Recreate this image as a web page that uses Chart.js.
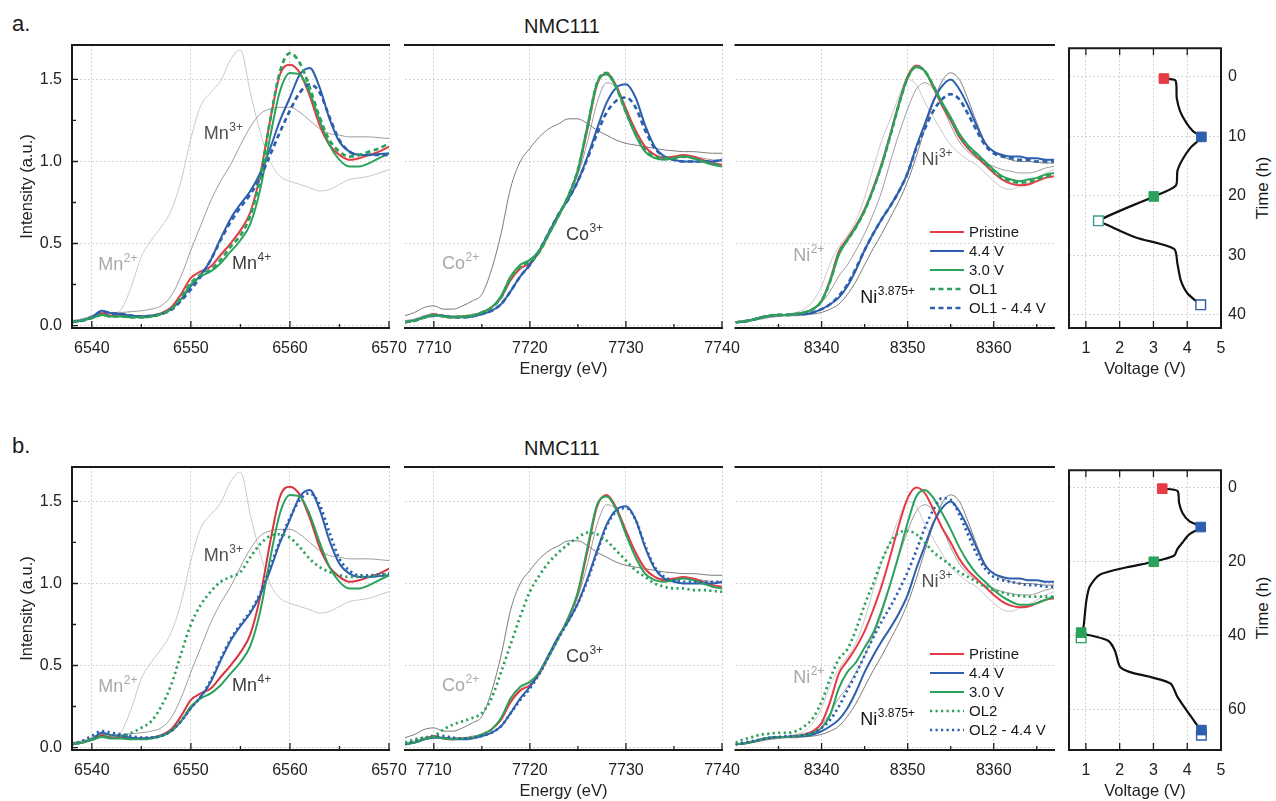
<!DOCTYPE html>
<html><head><meta charset="utf-8">
<script src="https://cdn.jsdelivr.net/npm/chart.js@4/dist/chart.umd.min.js"></script>
<style>
html,body{margin:0;padding:0;width:1276px;height:801px;overflow:hidden;background:#fff}
body{position:relative;font-family:"Liberation Sans",Arial,sans-serif;color:#1a1a1a}
canvas{position:absolute}
.t{position:absolute;line-height:1;white-space:nowrap}
</style></head><body>
<div class="t" style="left:12px;top:13px;font-size:22px">a.</div>
<div class="t" style="left:562px;top:16px;font-size:20px;transform:translateX(-50%)">NMC111</div>
<div class="t" style="left:12px;top:435px;font-size:22px">b.</div>
<div class="t" style="left:562px;top:438px;font-size:20px;transform:translateX(-50%)">NMC111</div>
<div class="t" style="left:1262px;top:188px;font-size:17px;transform:translate(-50%,-50%) rotate(-90deg)">Time (h)</div>
<div class="t" style="left:1262px;top:608px;font-size:17px;transform:translate(-50%,-50%) rotate(-90deg)">Time (h)</div>

<canvas id="a1" width="415" height="345" style="left:0px;top:40px"></canvas>
<canvas id="a2" width="365" height="345" style="left:385px;top:40px"></canvas>
<canvas id="a3" width="355" height="345" style="left:715px;top:40px"></canvas>
<canvas id="a4" width="226" height="345" style="left:1050px;top:40px"></canvas>
<canvas id="b1" width="415" height="345" style="left:0px;top:462px"></canvas>
<canvas id="b2" width="365" height="345" style="left:385px;top:462px"></canvas>
<canvas id="b3" width="355" height="345" style="left:715px;top:462px"></canvas>
<canvas id="b4" width="226" height="345" style="left:1050px;top:462px"></canvas>

<script>
// ---------------- DATA ----------------
// Mn K-edge
const mnEnergy = [6538,6539,6540,6541,6542,6543,6544,6545,6546,6547,6548,6549,6550,6551,6552,6553,6554,6555,6556,6557,6558,6559,6560,6561,6562,6563,6564,6565,6566,6567,6568,6569,6570];
const mnPristine = [0.02,0.03,0.05,0.075,0.06,0.06,0.055,0.055,0.06,0.075,0.11,0.19,0.29,0.33,0.36,0.43,0.50,0.58,0.69,0.92,1.25,1.53,1.59,1.54,1.40,1.22,1.10,1.04,1.01,1.02,1.04,1.06,1.09];
const mn44 = [0.02,0.03,0.05,0.09,0.075,0.07,0.06,0.055,0.06,0.07,0.10,0.16,0.24,0.31,0.40,0.53,0.65,0.74,0.82,0.93,1.08,1.25,1.39,1.53,1.57,1.45,1.26,1.12,1.06,1.04,1.04,1.045,1.05];
const mn30 = [0.02,0.03,0.045,0.065,0.055,0.055,0.05,0.05,0.055,0.07,0.10,0.16,0.25,0.30,0.33,0.38,0.45,0.52,0.62,0.83,1.15,1.43,1.54,1.53,1.42,1.25,1.10,1.01,0.97,0.97,0.99,1.02,1.05];
const mnOL1 = [0.02,0.03,0.045,0.065,0.055,0.055,0.05,0.05,0.055,0.07,0.10,0.17,0.26,0.31,0.34,0.40,0.48,0.55,0.67,0.90,1.25,1.55,1.66,1.60,1.45,1.27,1.13,1.06,1.03,1.04,1.06,1.08,1.11];
const mnOL1_44 = [0.02,0.03,0.05,0.085,0.075,0.07,0.06,0.055,0.06,0.07,0.095,0.15,0.22,0.30,0.40,0.52,0.63,0.72,0.80,0.90,1.04,1.18,1.31,1.42,1.47,1.42,1.27,1.13,1.06,1.04,1.04,1.04,1.04];
const mnOL2 = [0.02,0.03,0.05,0.07,0.07,0.07,0.09,0.12,0.16,0.25,0.38,0.57,0.75,0.87,0.95,1.01,1.04,1.07,1.16,1.24,1.29,1.30,1.28,1.22,1.15,1.10,1.07,1.05,1.04,1.04,1.04,1.05,1.06];
const mnOL2_44 = [0.02,0.04,0.07,0.10,0.09,0.08,0.07,0.06,0.06,0.07,0.10,0.16,0.24,0.31,0.41,0.54,0.66,0.75,0.83,0.94,1.10,1.26,1.40,1.51,1.55,1.48,1.31,1.15,1.08,1.05,1.05,1.055,1.06];
const mnRef2 = [0.03,0.04,0.05,0.075,0.07,0.10,0.24,0.42,0.52,0.60,0.70,0.88,1.14,1.34,1.42,1.49,1.62,1.68,1.42,1.18,1.00,0.91,0.88,0.86,0.84,0.82,0.83,0.86,0.89,0.90,0.91,0.93,0.95];
const mnRef3 = [0.03,0.04,0.06,0.08,0.08,0.08,0.085,0.09,0.10,0.12,0.18,0.30,0.46,0.61,0.76,0.88,0.98,1.10,1.21,1.29,1.32,1.33,1.33,1.30,1.25,1.20,1.17,1.16,1.15,1.15,1.15,1.145,1.14];

// Co K-edge
const coEnergy = [7707,7708,7709,7710,7711,7712,7713,7714,7715,7716,7717,7718,7719,7720,7721,7722,7723,7724,7725,7726,7727,7728,7729,7730,7731,7732,7733,7734,7735,7736,7737,7738,7739,7740];
const coPristine = [0.02,0.03,0.05,0.07,0.055,0.05,0.055,0.06,0.08,0.11,0.17,0.28,0.35,0.38,0.45,0.56,0.67,0.79,0.94,1.20,1.47,1.54,1.46,1.32,1.19,1.09,1.04,1.02,1.03,1.04,1.03,1.01,0.99,0.98];
const co44 = [0.02,0.03,0.05,0.06,0.06,0.05,0.05,0.055,0.07,0.09,0.13,0.21,0.30,0.37,0.46,0.57,0.68,0.77,0.88,1.03,1.20,1.36,1.45,1.47,1.39,1.22,1.09,1.03,1.01,1.00,1.00,1.00,1.00,1.01];
const co30 = [0.02,0.03,0.05,0.065,0.055,0.05,0.055,0.06,0.08,0.11,0.18,0.30,0.37,0.40,0.46,0.56,0.67,0.79,0.95,1.22,1.48,1.53,1.45,1.30,1.16,1.06,1.02,1.01,1.02,1.03,1.02,1.00,0.98,0.97];
const coOL1 = [0.02,0.03,0.05,0.065,0.055,0.05,0.055,0.06,0.08,0.11,0.17,0.29,0.36,0.39,0.45,0.56,0.67,0.79,0.95,1.21,1.48,1.54,1.45,1.30,1.17,1.07,1.03,1.02,1.02,1.03,1.02,1.00,0.985,0.975];
const coOL1_44 = [0.02,0.03,0.05,0.06,0.06,0.05,0.05,0.055,0.07,0.09,0.13,0.21,0.30,0.37,0.46,0.57,0.68,0.77,0.88,1.02,1.17,1.30,1.37,1.39,1.33,1.19,1.08,1.03,1.01,1.00,1.00,1.00,1.00,1.01];
const coOL2 = [0.03,0.05,0.06,0.07,0.11,0.14,0.16,0.18,0.21,0.30,0.46,0.63,0.80,0.95,1.05,1.13,1.19,1.24,1.28,1.31,1.30,1.26,1.20,1.14,1.08,1.04,1.00,0.98,0.97,0.97,0.96,0.96,0.955,0.95];
const coOL2_44 = [0.02,0.04,0.06,0.07,0.07,0.06,0.055,0.06,0.07,0.09,0.13,0.21,0.29,0.36,0.45,0.56,0.67,0.77,0.88,1.02,1.19,1.35,1.44,1.46,1.39,1.23,1.10,1.04,1.02,1.01,1.01,1.01,1.01,1.01];
const coRef2 = [0.06,0.08,0.11,0.12,0.10,0.10,0.12,0.15,0.19,0.34,0.56,0.84,1.00,1.08,1.15,1.20,1.23,1.26,1.26,1.23,1.19,1.16,1.13,1.11,1.10,1.09,1.08,1.07,1.065,1.06,1.06,1.055,1.05,1.05];
const coRef3 = [0.03,0.04,0.06,0.07,0.06,0.06,0.06,0.07,0.08,0.11,0.17,0.27,0.34,0.38,0.45,0.56,0.67,0.79,0.92,1.12,1.36,1.48,1.45,1.33,1.18,1.08,1.04,1.03,1.03,1.04,1.03,1.02,1.01,1.00];

// Ni K-edge
const niEnergy = [8330,8331,8332,8333,8334,8335,8336,8337,8338,8339,8340,8341,8342,8343,8344,8345,8346,8347,8348,8349,8350,8351,8352,8353,8354,8355,8356,8357,8358,8359,8360,8361,8362,8363,8364,8365,8366,8367];
const niPristine = [0.02,0.025,0.035,0.05,0.06,0.065,0.065,0.07,0.08,0.10,0.15,0.28,0.45,0.53,0.61,0.71,0.84,0.99,1.17,1.36,1.52,1.585,1.55,1.45,1.34,1.25,1.15,1.08,1.03,0.98,0.93,0.89,0.865,0.855,0.86,0.88,0.90,0.91];
const ni44 = [0.02,0.025,0.035,0.05,0.06,0.065,0.065,0.07,0.07,0.08,0.10,0.13,0.17,0.24,0.34,0.46,0.56,0.65,0.73,0.82,0.93,1.09,1.23,1.37,1.46,1.50,1.44,1.34,1.22,1.11,1.06,1.04,1.03,1.03,1.02,1.02,1.01,1.01];
const ni30a = [0.02,0.025,0.035,0.05,0.06,0.065,0.065,0.07,0.08,0.10,0.15,0.27,0.43,0.52,0.60,0.70,0.83,0.98,1.16,1.35,1.51,1.575,1.55,1.46,1.36,1.27,1.17,1.10,1.05,1.00,0.95,0.91,0.89,0.88,0.89,0.90,0.92,0.93];
const ni30b = [0.02,0.025,0.035,0.05,0.06,0.065,0.065,0.07,0.075,0.09,0.12,0.20,0.36,0.46,0.52,0.61,0.70,0.84,1.00,1.18,1.37,1.53,1.57,1.52,1.43,1.33,1.22,1.13,1.06,1.01,0.96,0.92,0.89,0.87,0.87,0.88,0.90,0.92];
const niOL1 = [0.02,0.025,0.035,0.05,0.06,0.065,0.065,0.07,0.08,0.10,0.15,0.27,0.44,0.52,0.60,0.70,0.83,0.98,1.16,1.35,1.51,1.58,1.55,1.46,1.35,1.26,1.16,1.09,1.04,0.99,0.94,0.90,0.88,0.87,0.875,0.89,0.91,0.92];
const niOL1_44 = [0.02,0.025,0.035,0.05,0.06,0.065,0.065,0.07,0.07,0.08,0.10,0.13,0.18,0.25,0.35,0.46,0.56,0.65,0.73,0.82,0.93,1.08,1.20,1.31,1.38,1.41,1.38,1.29,1.19,1.10,1.05,1.03,1.02,1.01,1.01,1.00,1.00,1.00];
const niOL2 = [0.03,0.05,0.065,0.08,0.085,0.09,0.09,0.10,0.13,0.18,0.28,0.42,0.54,0.60,0.72,0.87,1.00,1.14,1.25,1.31,1.32,1.30,1.25,1.19,1.15,1.11,1.07,1.04,1.01,0.98,0.96,0.945,0.93,0.925,0.92,0.92,0.92,0.92];
const niOL2_44 = [0.02,0.03,0.04,0.05,0.06,0.065,0.07,0.07,0.08,0.09,0.12,0.17,0.25,0.35,0.45,0.56,0.67,0.77,0.86,0.96,1.07,1.20,1.34,1.45,1.52,1.51,1.42,1.30,1.18,1.09,1.04,1.02,1.01,1.00,0.99,0.99,0.98,0.98];
const niRef2 = [0.02,0.03,0.04,0.05,0.06,0.065,0.07,0.08,0.10,0.15,0.24,0.38,0.48,0.55,0.64,0.78,0.96,1.13,1.26,1.40,1.50,1.47,1.36,1.27,1.18,1.10,1.05,1.01,0.98,0.93,0.88,0.84,0.83,0.85,0.87,0.90,0.93,0.95];
const niRef3 = [0.02,0.03,0.04,0.05,0.06,0.06,0.065,0.07,0.08,0.10,0.14,0.21,0.30,0.37,0.46,0.56,0.68,0.82,1.00,1.17,1.32,1.44,1.48,1.44,1.34,1.22,1.12,1.06,1.02,0.99,0.97,0.95,0.94,0.93,0.93,0.94,0.96,0.97];
const niRef3875 = [0.02,0.025,0.03,0.04,0.05,0.055,0.06,0.06,0.065,0.07,0.08,0.10,0.13,0.19,0.27,0.37,0.47,0.56,0.66,0.76,0.88,1.03,1.20,1.36,1.49,1.54,1.50,1.38,1.24,1.12,1.06,1.03,1.01,1.00,1.00,0.995,0.99,0.99];

// Voltage profiles (voltage V vs time h)
const voltA = [3.31,3.65,3.69,3.79,3.98,4.18,4.42,4.10,3.86,3.71,3.66,3.01,1.37,1.60,2.48,3.61,3.71,3.81,4.01,4.40];
const timeA = [0.3,0.6,3.6,5.8,7.8,9.2,10.1,11.9,13.9,15.8,18.3,20.1,24.2,24.8,27.0,28.9,31.4,34.2,36.4,38.3];
const voltB = [3.26,3.71,3.76,3.86,4.06,4.40,4.06,3.86,3.71,3.61,3.01,2.21,1.41,1.11,1.01,0.96,0.91,0.86,1.21,1.66,1.86,2.01,2.31,2.90,3.51,3.71,4.11,4.42];
const timeB = [0.2,0.8,4.1,6.8,9.0,10.6,12.6,14.8,16.6,18.4,20.0,21.5,23.5,26.8,30.8,35.2,38.8,39.4,40.1,41.4,44.1,48.5,49.9,51.2,53.0,56.6,61.9,65.9];
// marker points [voltage, time]
const markA = {pristine:[3.31,0.3], v44:[4.42,10.1], v30:[3.01,20.1], ol:[1.37,24.2], ol44:[4.40,38.3]};
const markB = {pristine:[3.26,0.2], v44:[4.40,10.6], v30:[3.01,20.0], ol:[0.86,39.2], olOpen:[0.86,40.6], ol44:[4.42,65.6], ol44Open:[4.42,67.0]};

// Tick labels
const mnTicks = [6540,6550,6560,6570], mnMinor = [6545,6555,6565];
const coTicks = [7710,7720,7730,7740], coMinor = [7715,7725,7735];
const niTicks = [8340,8350,8360], niMinor = [8335,8345,8355,8365];
const intTicks = [0,0.5,1.0,1.5], intMinor = [0.25,0.75,1.25];
const voltTicks = [1,2,3,4,5];
const timeTicksA = [0,10,20,30,40];
const timeTicksB = [0,20,40,60];

// ---------------- STYLE ----------------
const FAM = '"Liberation Sans", Arial, sans-serif';
Chart.defaults.font.family = FAM;
Chart.defaults.color = '#222';
const COL = {red:'#e63a45', blue:'#2d5fae', green:'#2ba25c', teal:'#3a9e8e'};
const GRID = {color:'#d4d4d4', lineWidth:1, drawTicks:false};
const BORDER = {display:false, dash:[2,2]};

function pts(xs, ys){ return xs.map((x,i)=>({x:x, y:ys[i]})); }
function line(label, xs, ys, color, style, order, inLegend){
  const d = {label, data: pts(xs, ys), borderColor: color, backgroundColor: color, borderWidth: 2,
    pointRadius: 0, cubicInterpolationMode: 'monotone', order: order, inLegend: inLegend};
  if (style === 'dash'){ d.borderDash = [5,3.5]; d.borderWidth = 2.7; }
  if (style === 'dot'){ d.borderDash = [2.2,3.3]; d.borderWidth = 2.7; }
  if (style === 'ref'){ d.borderWidth = 1; }
  return d;
}
const setTicks = list => s => { s.ticks = list.map(v => ({value: v})); };
const fixX = h => s => { s.height = h; s.paddingLeft = 0; s.paddingRight = 0; };
const fixY = w => s => { s.width = w; s.paddingTop = 0; s.paddingBottom = 0; };
const plain = v => String(v);

// frame + inward ticks
const framePlugin = {
  id: 'frame',
  afterDatasetsDraw(chart, args, o){
    const {ctx, chartArea: a, scales} = chart;
    const sx = scales.x, sy = scales.y;
    ctx.save();
    ctx.setLineDash([]);
    ctx.strokeStyle = '#1e1e1e';
    ctx.lineWidth = 1.3;
    ctx.beginPath();
    const tk = (vals, len, side) => (vals||[]).forEach(v => {
      if (side === 'bottom'){ const p = sx.getPixelForValue(v); ctx.moveTo(p, a.bottom); ctx.lineTo(p, a.bottom - len); }
      if (side === 'top'){ const p = sx.getPixelForValue(v); ctx.moveTo(p, a.top); ctx.lineTo(p, a.top + len); }
      if (side === 'left'){ const p = sy.getPixelForValue(v); ctx.moveTo(a.left, p); ctx.lineTo(a.left + len, p); }
      if (side === 'right'){ const p = sy.getPixelForValue(v); ctx.moveTo(a.right, p); ctx.lineTo(a.right - len, p); }
    });
    tk(o.bottomMajor, 7, 'bottom'); tk(o.bottomMinor, 4, 'bottom');
    tk(o.topMajor, 7, 'top');
    tk(o.leftMajor, 6, 'left'); tk(o.leftMinor, 4, 'left');
    ctx.stroke();
    ctx.lineWidth = 2;
    ctx.strokeStyle = '#1a1a1a';
    ctx.beginPath();
    const s = o.sides || [];
    if (s.includes('top')){ ctx.moveTo(a.left - 1, a.top); ctx.lineTo(a.right + 1, a.top); }
    if (s.includes('bottom')){ ctx.moveTo(a.left - 1, a.bottom); ctx.lineTo(a.right + 1, a.bottom); }
    if (s.includes('left')){ ctx.moveTo(a.left, a.top); ctx.lineTo(a.left, a.bottom); }
    if (s.includes('right')){ ctx.moveTo(a.right, a.top); ctx.lineTo(a.right, a.bottom); }
    ctx.stroke();
    ctx.restore();
  }
};

// labels with superscripts placed at data coordinates
const notesPlugin = {
  id: 'notes',
  afterDatasetsDraw(chart, args, o){
    const {ctx, scales} = chart;
    ctx.save();
    (o.items || []).forEach(n => {
      const px = scales.x.getPixelForValue(n.x), py = scales.y.getPixelForValue(n.y);
      ctx.fillStyle = n.c;
      ctx.textBaseline = 'alphabetic';
      ctx.textAlign = 'left';
      ctx.font = '18px ' + FAM;
      ctx.fillText(n.t, px, py);
      const w = ctx.measureText(n.t).width;
      ctx.font = '12px ' + FAM;
      ctx.fillText(n.s, px + w + 0.5, py - 8);
    });
    ctx.restore();
  }
};

// legend drawn inside the Ni panel
const legendPlugin = {
  id: 'inlegend',
  afterDatasetsDraw(chart, args, o){
    if (!o.show) return;
    const {ctx, chartArea: a} = chart;
    const items = chart.data.datasets.filter(d => d.inLegend).sort((p, q) => p.inLegend - q.inLegend);
    ctx.save();
    items.forEach((d, i) => {
      const y = a.top + 187 + i * 19;
      const x0 = a.right - 124;
      ctx.strokeStyle = d.borderColor;
      ctx.lineWidth = d.borderDash ? 2.6 : 2.2;
      ctx.setLineDash(d.borderDash || []);
      ctx.beginPath(); ctx.moveTo(x0, y); ctx.lineTo(x0 + 34, y); ctx.stroke();
      ctx.setLineDash([]);
      ctx.fillStyle = '#1a1a1a';
      ctx.font = '15px ' + FAM;
      ctx.textBaseline = 'middle';
      ctx.fillText(d.label, x0 + 39, y + 1);
    });
    ctx.restore();
  }
};

function xAxis(min, max, ticks, title, titlePad){
  return {type:'linear', min, max, afterBuildTicks: setTicks(ticks), afterFit: fixX(57),
    ticks:{font:{size:16}, padding:11, maxRotation:0, autoSkip:false, color:'#222', callback: plain},
    grid: GRID, border: BORDER,
    title: title ? {display:true, text:title, font:{size:16.5}, color:'#222', padding:{top:0, bottom:titlePad}} : {display:false}};
}
function yInt(showLabels){
  const y = {type:'linear', min:-0.015, max:1.71, afterBuildTicks: setTicks(intTicks), grid: GRID, border: BORDER};
  if (showLabels){
    y.afterFit = fixY(72);
    y.ticks = {font:{size:16}, padding:10, color:'#222', callback: v => v.toFixed(1)};
    y.title = {display:true, text:'Intensity (a.u.)', font:{size:16.5}, color:'#222', padding:{top:18, bottom:0}};
  } else {
    y.afterFit = fixY(0);
    y.ticks = {display:false};
  }
  return y;
}
function specChart(id, datasets, xs, ys, pad, frame, notes, legend){
  new Chart(document.getElementById(id), {
    type:'line',
    data:{datasets},
    options:{responsive:false, animation:false, events:[], maintainAspectRatio:false,
      layout:{padding:pad},
      plugins:{legend:{display:false}, tooltip:{enabled:false}, frame, notes:{items:notes}, inlegend:{show:!!legend}},
      scales:{x:xs, y:ys}},
    plugins:[framePlugin, notesPlugin, legendPlugin]
  });
}

const LIGHT = '#c9c9c9', MID = '#9d9d9d', DARK = '#7b7b7b';
const mnNotes = [
  {x:6551.3, y:1.135, t:'Mn', s:'3+', c:'#505050'},
  {x:6540.65, y:0.337, t:'Mn', s:'2+', c:'#a9a9a9'},
  {x:6554.15, y:0.346, t:'Mn', s:'4+', c:'#404040'}];
const coNotes = [
  {x:7710.85, y:0.346, t:'Co', s:'2+', c:'#a9a9a9'},
  {x:7723.75, y:0.524, t:'Co', s:'3+', c:'#404040'}];
const niNotes = [
  {x:8351.6, y:0.976, t:'Ni', s:'3+', c:'#505050'},
  {x:8336.7, y:0.392, t:'Ni', s:'2+', c:'#a9a9a9'},
  {x:8344.5, y:0.138, t:'Ni', s:'3.875+', c:'#151515'}];

const padP1 = {left:0, right:26, top:5, bottom:0};
const padP2 = {left:20, right:28, top:5, bottom:0};
const padP3 = {left:20.5, right:16, top:5, bottom:0};
const f1 = {sides:['left','top','bottom'], bottomMajor: mnTicks, bottomMinor: mnMinor, leftMajor: intTicks, leftMinor: intMinor};
const f2 = {sides:['top','bottom'], bottomMajor: coTicks, bottomMinor: coMinor};
const f3 = {sides:['top','bottom'], bottomMajor: niTicks, bottomMinor: niMinor};

// ---- row a ----
specChart('a1', [
  line('Mn2+ ref', mnEnergy, mnRef2, LIGHT, 'ref', 20),
  line('Mn3+ ref', mnEnergy, mnRef3, MID, 'ref', 19),
  line('Pristine', mnEnergy, mnPristine, COL.red, 'solid', 5),
  line('4.4 V', mnEnergy, mn44, COL.blue, 'solid', 4),
  line('3.0 V', mnEnergy, mn30, COL.green, 'solid', 3),
  line('OL1', mnEnergy, mnOL1, COL.green, 'dash', 1),
  line('OL1 - 4.4 V', mnEnergy, mnOL1_44, COL.blue, 'dash', 2)
], xAxis(6538, 6570, mnTicks), yInt(true), padP1, f1, mnNotes);

specChart('a2', [
  line('Co2+ ref', coEnergy, coRef2, DARK, 'ref', 20),
  line('Co3+ ref', coEnergy, coRef3, MID, 'ref', 19),
  line('Pristine', coEnergy, coPristine, COL.red, 'solid', 5),
  line('4.4 V', coEnergy, co44, COL.blue, 'solid', 4),
  line('3.0 V', coEnergy, co30, COL.green, 'solid', 2),
  line('OL1', coEnergy, coOL1, COL.green, 'dash', 1),
  line('OL1 - 4.4 V', coEnergy, coOL1_44, COL.blue, 'dash', 3)
], xAxis(7707, 7740, coTicks, 'Energy (eV)', 6), yInt(false), padP2, f2, coNotes);

specChart('a3', [
  line('Ni2+ ref', niEnergy, niRef2, LIGHT, 'ref', 20),
  line('Ni3+ ref', niEnergy, niRef3, MID, 'ref', 19),
  line('Ni3.875+ ref', niEnergy, niRef3875, DARK, 'ref', 18),
  line('Pristine', niEnergy, niPristine, COL.red, 'solid', 5, 1),
  line('4.4 V', niEnergy, ni44, COL.blue, 'solid', 4, 2),
  line('3.0 V', niEnergy, ni30a, COL.green, 'solid', 2, 3),
  line('OL1', niEnergy, niOL1, COL.green, 'dash', 1, 4),
  line('OL1 - 4.4 V', niEnergy, niOL1_44, COL.blue, 'dash', 3, 5)
], xAxis(8330, 8367, niTicks), yInt(false), padP3, f3, niNotes, true);

// ---- row b ----
specChart('b1', [
  line('Mn2+ ref', mnEnergy, mnRef2, LIGHT, 'ref', 20),
  line('Mn3+ ref', mnEnergy, mnRef3, MID, 'ref', 19),
  line('Pristine', mnEnergy, mnPristine, '#d8343f', 'solid', 5),
  line('4.4 V', mnEnergy, mn44, COL.blue, 'solid', 4),
  line('3.0 V', mnEnergy, mn30, COL.green, 'solid', 3),
  line('OL2', mnEnergy, mnOL2, COL.green, 'dot', 1),
  line('OL2 - 4.4 V', mnEnergy, mnOL2_44, COL.blue, 'dot', 2)
], xAxis(6538, 6570, mnTicks), yInt(true), padP1, f1, mnNotes);

specChart('b2', [
  line('Co2+ ref', coEnergy, coRef2, DARK, 'ref', 20),
  line('Co3+ ref', coEnergy, coRef3, MID, 'ref', 19),
  line('Pristine', coEnergy, coPristine, COL.red, 'solid', 5),
  line('4.4 V', coEnergy, co44, COL.blue, 'solid', 4),
  line('3.0 V', coEnergy, co30, COL.green, 'solid', 3),
  line('OL2', coEnergy, coOL2, COL.green, 'dot', 1),
  line('OL2 - 4.4 V', coEnergy, coOL2_44, COL.blue, 'dot', 2)
], xAxis(7707, 7740, coTicks, 'Energy (eV)', 6), yInt(false), padP2, f2, coNotes);

specChart('b3', [
  line('Ni2+ ref', niEnergy, niRef2, LIGHT, 'ref', 20),
  line('Ni3+ ref', niEnergy, niRef3, MID, 'ref', 19),
  line('Ni3.875+ ref', niEnergy, niRef3875, DARK, 'ref', 18),
  line('Pristine', niEnergy, niPristine, COL.red, 'solid', 5, 1),
  line('4.4 V', niEnergy, ni44, COL.blue, 'solid', 4, 2),
  line('3.0 V', niEnergy, ni30b, COL.green, 'solid', 3, 3),
  line('OL2', niEnergy, niOL2, COL.green, 'dot', 1, 4),
  line('OL2 - 4.4 V', niEnergy, niOL2_44, COL.blue, 'dot', 2, 5)
], xAxis(8330, 8367, niTicks), yInt(false), padP3, f3, niNotes, true);

// ---- voltage panels ----
function marker(p, color, open){
  return {type:'line', data:[{x:p[0], y:p[1]}], showLine:false, pointStyle:'rect', pointRadius:6.8,
    backgroundColor: open ? '#ffffff' : color, borderColor: color, pointBorderWidth: open ? 1.4 : 1, order: 0};
}
function voltChart(id, volt, time, marks, tmax, tTicks){
  new Chart(document.getElementById(id), {
    type:'line',
    data:{datasets:[
      {label:'profile', data: pts(volt, time), borderColor:'#111', borderWidth:2.2, pointRadius:0, tension:0.25, order:10},
      ...marks
    ]},
    options:{responsive:false, animation:false, events:[], maintainAspectRatio:false,
      layout:{padding:{left:19, right:0, top:5, bottom:0}},
      plugins:{legend:{display:false}, tooltip:{enabled:false},
        frame:{sides:['left','right','top','bottom'], bottomMajor: voltTicks, topMajor:[1,2,3,4]},
        notes:{items:[]}, inlegend:{show:false}},
      scales:{
        x:{type:'linear', min:0.5, max:5, afterBuildTicks:setTicks(voltTicks), afterFit:fixX(57),
          ticks:{font:{size:16}, padding:11, maxRotation:0, autoSkip:false, color:'#222', callback: plain},
          grid:GRID, border:BORDER,
          title:{display:true, text:'Voltage (V)', font:{size:16.5}, color:'#222', padding:{top:0, bottom:6}}},
        y:{type:'linear', position:'right', reverse:true, min:-4.8, max:tmax, afterBuildTicks:setTicks(tTicks), afterFit:fixY(55),
          ticks:{font:{size:16}, padding:7, color:'#222', callback: plain}, grid:GRID, border:BORDER}
      }},
    plugins:[framePlugin, notesPlugin, legendPlugin]
  });
}
voltChart('a4', voltA, timeA, [
  marker(markA.pristine, COL.red), marker(markA.v44, COL.blue), marker(markA.v30, COL.green),
  marker(markA.ol, COL.teal, true), marker(markA.ol44, COL.blue, true)
], 42.2, timeTicksA);
voltChart('b4', voltB, timeB, [
  marker(markB.pristine, COL.red), marker(markB.v44, COL.blue), marker(markB.v30, COL.green),
  marker(markB.ol, COL.green), marker(markB.olOpen, COL.green, true),
  marker(markB.ol44, COL.blue), marker(markB.ol44Open, COL.blue, true)
], 71, timeTicksB);
</script>
</body></html>
